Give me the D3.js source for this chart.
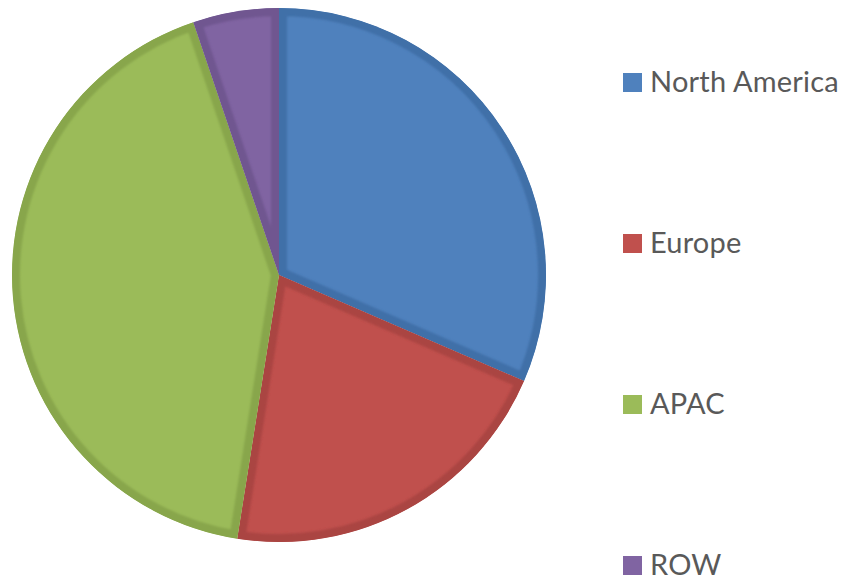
<!DOCTYPE html>
<html><head><meta charset="utf-8">
<script src="https://cdn.jsdelivr.net/npm/d3@7"></script>
<style>html,body{margin:0;padding:0;background:#fff;}svg{display:block;}</style>
</head><body>
<svg id="chart" width="843" height="578"></svg>
<script>
const categories = ["North America", "Europe", "APAC", "ROW"];
const values = [31.5, 21, 42.3, 5.2];
const fillColors = ["#4F81BD", "#C0504D", "#9BBB59", "#8064A2"];
const edgeColors = ["#4170A8", "#AA4542", "#88A64C", "#705690"];

const svg = d3.select("#chart");
const cx = 279, cy = 275, R = 267;

const defs = svg.append("defs");
defs.append("filter").attr("id", "soft").attr("x", "-10%").attr("y", "-10%").attr("width", "120%").attr("height", "120%")
  .append("feGaussianBlur").attr("stdDeviation", 1.2);

const pie = d3.pie().sort(null).value(d => d.v);
const arcs = pie(categories.map((c, i) => ({c, v: values[i], i})));
const arc = d3.arc().innerRadius(0).outerRadius(R);

arcs.forEach((a, k) => {
  const d = arc(a);
  defs.append("clipPath").attr("id", "clip" + k).append("path").attr("d", d).attr("transform", `translate(${cx},${cy})`);
  const sg = svg.append("g").attr("clip-path", `url(#clip${k})`);
  const inner = sg.append("g").attr("transform", `translate(${cx},${cy})`);
  inner.append("path").attr("d", d).attr("fill", fillColors[a.data.i]);
  inner.append("path").attr("d", d).attr("fill", "none")
    .attr("stroke", edgeColors[a.data.i]).attr("stroke-width", 16)
    .attr("stroke-linejoin", "miter").attr("filter", "url(#soft)");
});

// legend
const lx = 623, ly0 = 82.5, lstep = 161, sq = 19;
const leg = svg.append("g");
categories.forEach((c, i) => {
  const y = ly0 + i * lstep;
  leg.append("rect").attr("x", lx).attr("y", y - sq / 2).attr("width", sq).attr("height", sq).attr("fill", fillColors[i]);
  leg.append("text").attr("x", 650).attr("y", y + sq / 2)
    .attr("font-family", "Lato, 'Open Sans', sans-serif").attr("font-size", 29)
    .attr("letter-spacing", 0.2)
    .attr("fill", "#595959").text(c);
});
</script>
</body></html>
